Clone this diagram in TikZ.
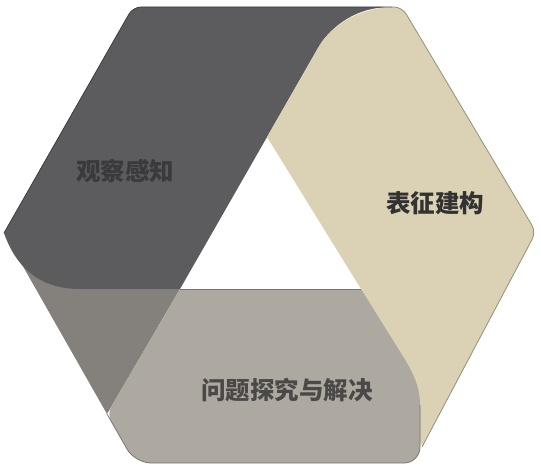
\documentclass[tikz,border=0pt]{standalone}
\usepackage{fontspec}
\newfontfamily\cjk{Noto Sans CJK SC}
\definecolor{darkband}{RGB}{92,91,94}
\definecolor{tanband}{RGB}{219,210,181}
\definecolor{baseband}{RGB}{174,169,160}
\definecolor{foldband}{RGB}{132,128,124}
\definecolor{darkedge}{RGB}{60,60,66}
\definecolor{tanedge}{RGB}{150,142,118}
\definecolor{baseedge}{RGB}{120,116,110}
\definecolor{darkink}{RGB}{58,58,60}
\definecolor{tanink}{RGB}{50,50,50}
\definecolor{baseink}{RGB}{74,73,71}

\begin{document}
\begin{tikzpicture}[x=1pt,y=-1pt,
    bandtext/.style={font=\cjk\bfseries\fontsize{24.5}{29}\selectfont,inner sep=0pt}]
    \useasboundingbox (0,0) rectangle (541,468);
    \coordinate (tt) at (267,137);
    \coordinate (tl) at (180,289);
    \coordinate (tr) at (361,289);
    \coordinate (hl) at (4,233);
    \coordinate (hul) at (133,7);
    \coordinate (hur) at (402,7);
    \coordinate (hr) at (536,232);
    \coordinate (hlr) at (422,447);
    \coordinate (hbl) at (135,463);
    \coordinate (hbr) at (420,463);
    \coordinate (ll) at (107,414);
    \coordinate (fold) at (80,289);
    \coordinate (topfold) at (392,7);
    \coordinate (tanfold) at (318,48);
    \coordinate (basefold) at (404,358);
    \coordinate (baseside) at (420,405);

    \fill[foldband] (hl) -- (ll) -- (tl) -- (fold) -- cycle;
    \fill[darkband] (tl) -- (fold) .. controls (35,289) and (14,262) .. (hl)
        [rounded corners=8pt] -- (hul) -- (topfold)
        [sharp corners] .. controls (352,9) and (328,30) .. (tanfold) -- cycle;
    \fill[tanband] (tt) -- (tanfold) .. controls (328,30) and (352,9) .. (topfold)
        [rounded corners=8pt] -- (hur) -- (hr)
        [rounded corners=3pt] -- (hlr)
        [sharp corners] -- (tr) -- cycle;
    \fill[baseband] (tl) -- (tr) -- (basefold) .. controls (414,374) and (420,388) .. (baseside)
        [rounded corners=16pt] -- (hbr) -- (hbl)
        [rounded corners=8pt] -- (ll)
        [sharp corners] -- cycle;

    \draw[darkedge,line width=0.8pt] (hl) [rounded corners=8pt] -- (hul) -- (topfold);
    \draw[tanedge,line width=0.8pt] (topfold) [rounded corners=8pt] -- (hur) -- (hr) [rounded corners=3pt] -- (hlr);
    \draw[baseedge,line width=0.6pt] (tl) -- (tr);
    \draw[baseedge,line width=0.8pt] (baseside) [rounded corners=16pt] -- (hbr) -- (hbl) [rounded corners=8pt] -- (ll);

    \node[bandtext,text=darkink] (observe) at (125,171) {观察感知};
    \node[bandtext,text=tanink] (represent) at (435,203) {表征建构};
    \node[bandtext,text=baseink] (probe) at (287,390) {问题探究与解决};
\end{tikzpicture}
\end{document}
